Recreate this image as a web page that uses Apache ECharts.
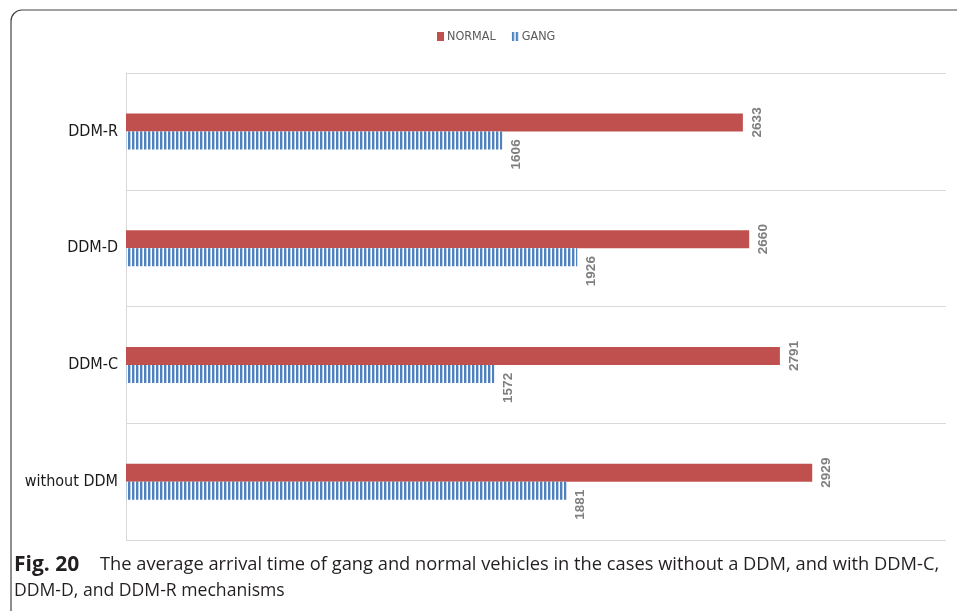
<!DOCTYPE html>
<html>
<head>
<meta charset="utf-8">
<script src="https://cdn.jsdelivr.net/npm/echarts@6/dist/echarts.min.js"></script>
<style>
  html, body { margin: 0; padding: 0; background: #ffffff; }
  #chart { width: 957px; height: 611px; }
</style>
</head>
<body>
<div id="chart"></div>
<script>
// Mechanisms, listed bottom-to-top as the category axis draws them
const categories = ['without DDM', 'DDM-C', 'DDM-D', 'DDM-R'];
// Average arrival time per mechanism
const normalValues = [2929, 2791, 2660, 2633];
const gangValues = [1881, 1572, 1926, 1606];
const seriesNames = ['NORMAL', 'GANG'];
const captionBold = 'Fig. 20';
const captionLine1 = 'The average arrival time of gang and normal vehicles in the cases without a DDM, and with DDM-C,';
const captionLine2 = 'DDM-D, and DDM-R mechanisms';

const CAPTION_FONT = 'Open Sans';

// Vertical blue hatching for the GANG bars
function stripePattern() {
  const c = document.createElement('canvas');
  c.width = 4; c.height = 4;
  const ctx = c.getContext('2d');
  ctx.fillStyle = '#ffffff';
  ctx.fillRect(0, 0, 4, 4);
  ctx.fillStyle = '#4f81bd';
  ctx.fillRect(0, 0, 2.4, 4);
  return { image: c, repeat: 'repeat' };
}

const chart = echarts.init(document.getElementById('chart'), null, { renderer: 'canvas' });

const labelBase = {
  show: true,
  position: 'right',
  distance: 14,
  rotate: 90,
  align: 'center',
  verticalAlign: 'middle',
  color: '#7f7f7f',
  fontFamily: 'Liberation Sans',
  fontWeight: 'bold',
  fontSize: 13.5
};

chart.setOption({
  animation: false,
  backgroundColor: '#ffffff',
  legend: {
    data: seriesNames,
    top: 25,
    left: 432,
    itemWidth: 7,
    itemHeight: 9,
    itemGap: 16,
    icon: 'rect',
    textStyle: { color: '#595959', fontFamily: 'DejaVu Sans Condensed', fontSize: 12.5, padding: [0, 0, 0, -2] }
  },
  grid: { left: 126, right: 11, top: 73, bottom: 71, containLabel: false },
  xAxis: {
    type: 'value',
    min: 0,
    max: 3500,
    axisLine: { show: false },
    axisTick: { show: false },
    axisLabel: { show: false },
    splitLine: { show: false }
  },
  yAxis: {
    type: 'category',
    data: categories,
    axisLine: { show: true, lineStyle: { color: '#d9d9d9' } },
    axisTick: { show: false },
    axisLabel: { color: '#1a1a1a', fontFamily: 'DejaVu Sans Condensed', fontSize: 16, margin: 8 },
    splitLine: { show: true, lineStyle: { color: '#d9d9d9' } }
  },
  series: [
    {
      name: 'NORMAL',
      type: 'bar',
      data: normalValues,
      barWidth: 18,
      barGap: '0%',
      itemStyle: { color: '#c0504d' },
      label: labelBase
    },
    {
      name: 'GANG',
      type: 'bar',
      data: gangValues,
      barWidth: 18,
      barGap: '0%',
      z: 3,
      itemStyle: { color: stripePattern() },
      // offset is given in the rotated label frame: [-14, 0] moves it 14px down on screen
      label: Object.assign({}, labelBase, { offset: [-14, 0] })
    }
  ],
  graphic: [
    {
      type: 'rect',
      shape: { x: 11, y: 10, width: 1000, height: 700, r: 11 },
      style: { fill: 'none', stroke: '#444444', lineWidth: 1.2 },
      silent: true
    },
    {
      type: 'text', x: 14, y: 565, silent: true,
      style: { text: captionBold, fontFamily: CAPTION_FONT, fontWeight: 'bold', fontSize: 21, fill: '#231f20', textVerticalAlign: 'middle' }
    },
    {
      type: 'text', x: 100, y: 565, silent: true,
      style: { text: captionLine1, fontFamily: CAPTION_FONT, fontSize: 18.3, fill: '#231f20', textVerticalAlign: 'middle' }
    },
    {
      type: 'text', x: 14, y: 591, silent: true,
      style: { text: captionLine2, fontFamily: CAPTION_FONT, fontSize: 17.6, fill: '#231f20', textVerticalAlign: 'middle' }
    }
  ]
});
</script>
</body>
</html>
